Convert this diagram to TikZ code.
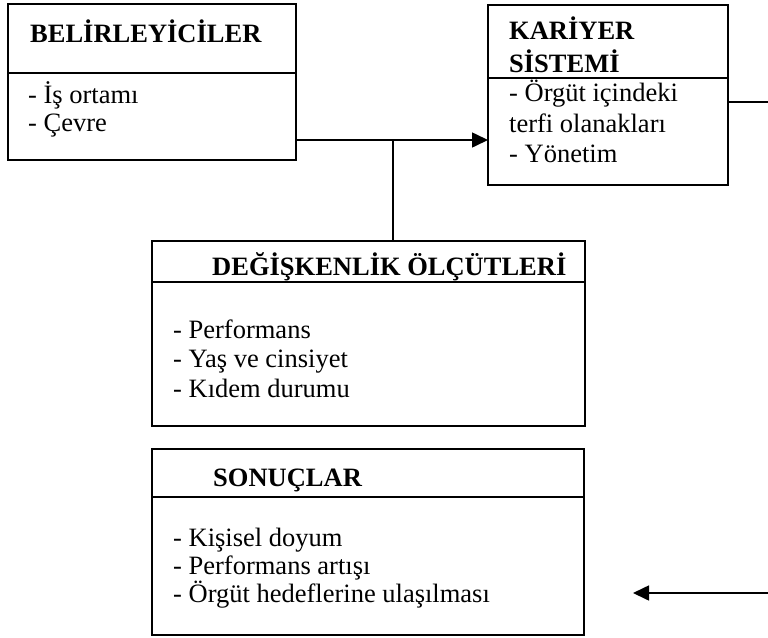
\documentclass[tikz,border=0pt]{standalone}
\usepackage{fontspec}
\setmainfont{Liberation Serif}
\usetikzlibrary{arrows.meta}
\begin{document}
\begin{tikzpicture}[x=1pt,y=-1pt,
  frame/.style={draw,line width=1.6pt,rectangle,inner sep=0pt,outer sep=0pt,anchor=north west},
  rule/.style={line width=1.6pt},
  link/.style={line width=1.6pt},
  tip/.style={-{Triangle[length=16pt,width=15pt]}},
  title/.style={font=\fontsize{26.5}{32}\selectfont\bfseries,anchor=base west,inner sep=0pt},
  item/.style={font=\fontsize{26.5}{32}\selectfont,anchor=base west,inner sep=0pt}]
\useasboundingbox (0,0) rectangle (768,637);

% boxes
\node[frame,minimum width=288pt,minimum height=156pt] (bel) at (8,4) {};
\node[frame,minimum width=240pt,minimum height=180pt] (kar) at (488,5) {};
\node[frame,minimum width=433pt,minimum height=185pt] (deg) at (152,241) {};
\node[frame,minimum width=432pt,minimum height=186pt] (son) at (152,449) {};

% title rules
\draw[rule] (bel.west |- 0,73) -- (bel.east |- 0,73);
\draw[rule] (kar.west |- 0,78) -- (kar.east |- 0,78);
\draw[rule] (deg.west |- 0,282) -- (deg.east |- 0,282);
\draw[rule] (son.west |- 0,497) -- (son.east |- 0,497);

% BELİRLEYİCİLER
\node[title] (belt) at (30,42) {BELİRLEYİCİLER};
\node[item] (bel1) at (28,103) {- İş ortamı};
\node[item] (bel2) at (28,131) {- Çevre};

% KARİYER SİSTEMİ
\node[title] (kart1) at (509,39) {KARİYER};
\node[title] (kart2) at (509,72) {SİSTEMİ};
\node[item] (kar1) at (509,101) {- Örgüt içindeki};
\node[item] (kar2) at (509,132) {terfi olanakları};
\node[item] (kar3) at (509,162) {- Yönetim};

% DEĞİŞKENLİK ÖLÇÜTLERİ
\node[title] (degt) at (212,275) {DEĞİŞKENLİK ÖLÇÜTLERİ};
\node[item] (deg1) at (173,338) {- Performans};
\node[item] (deg2) at (173,367) {- Yaş ve cinsiyet};
\node[item] (deg3) at (173,397) {- Kıdem durumu};

% SONUÇLAR
\node[title] (sont) at (213,486) {SONUÇLAR};
\node[item] (son1) at (173,546) {- Kişisel doyum};
\node[item] (son2) at (173,574) {- Performans artışı};
\node[item] (son3) at (173,602) {- Örgüt hedeflerine ulaşılması};

% connectors
\coordinate (j) at (393,140);
\draw[link,tip] (bel.east |- j) -- (kar.west |- j);
\draw[link] (j) -- (j |- deg.north);
\coordinate (out) at (768,102);
\draw[link] (kar.east |- out) -- (out);
\coordinate (in) at (768,593);
\coordinate (inend) at (633,593);
\draw[link,tip] (in) -- (inend);
\end{tikzpicture}
\end{document}
